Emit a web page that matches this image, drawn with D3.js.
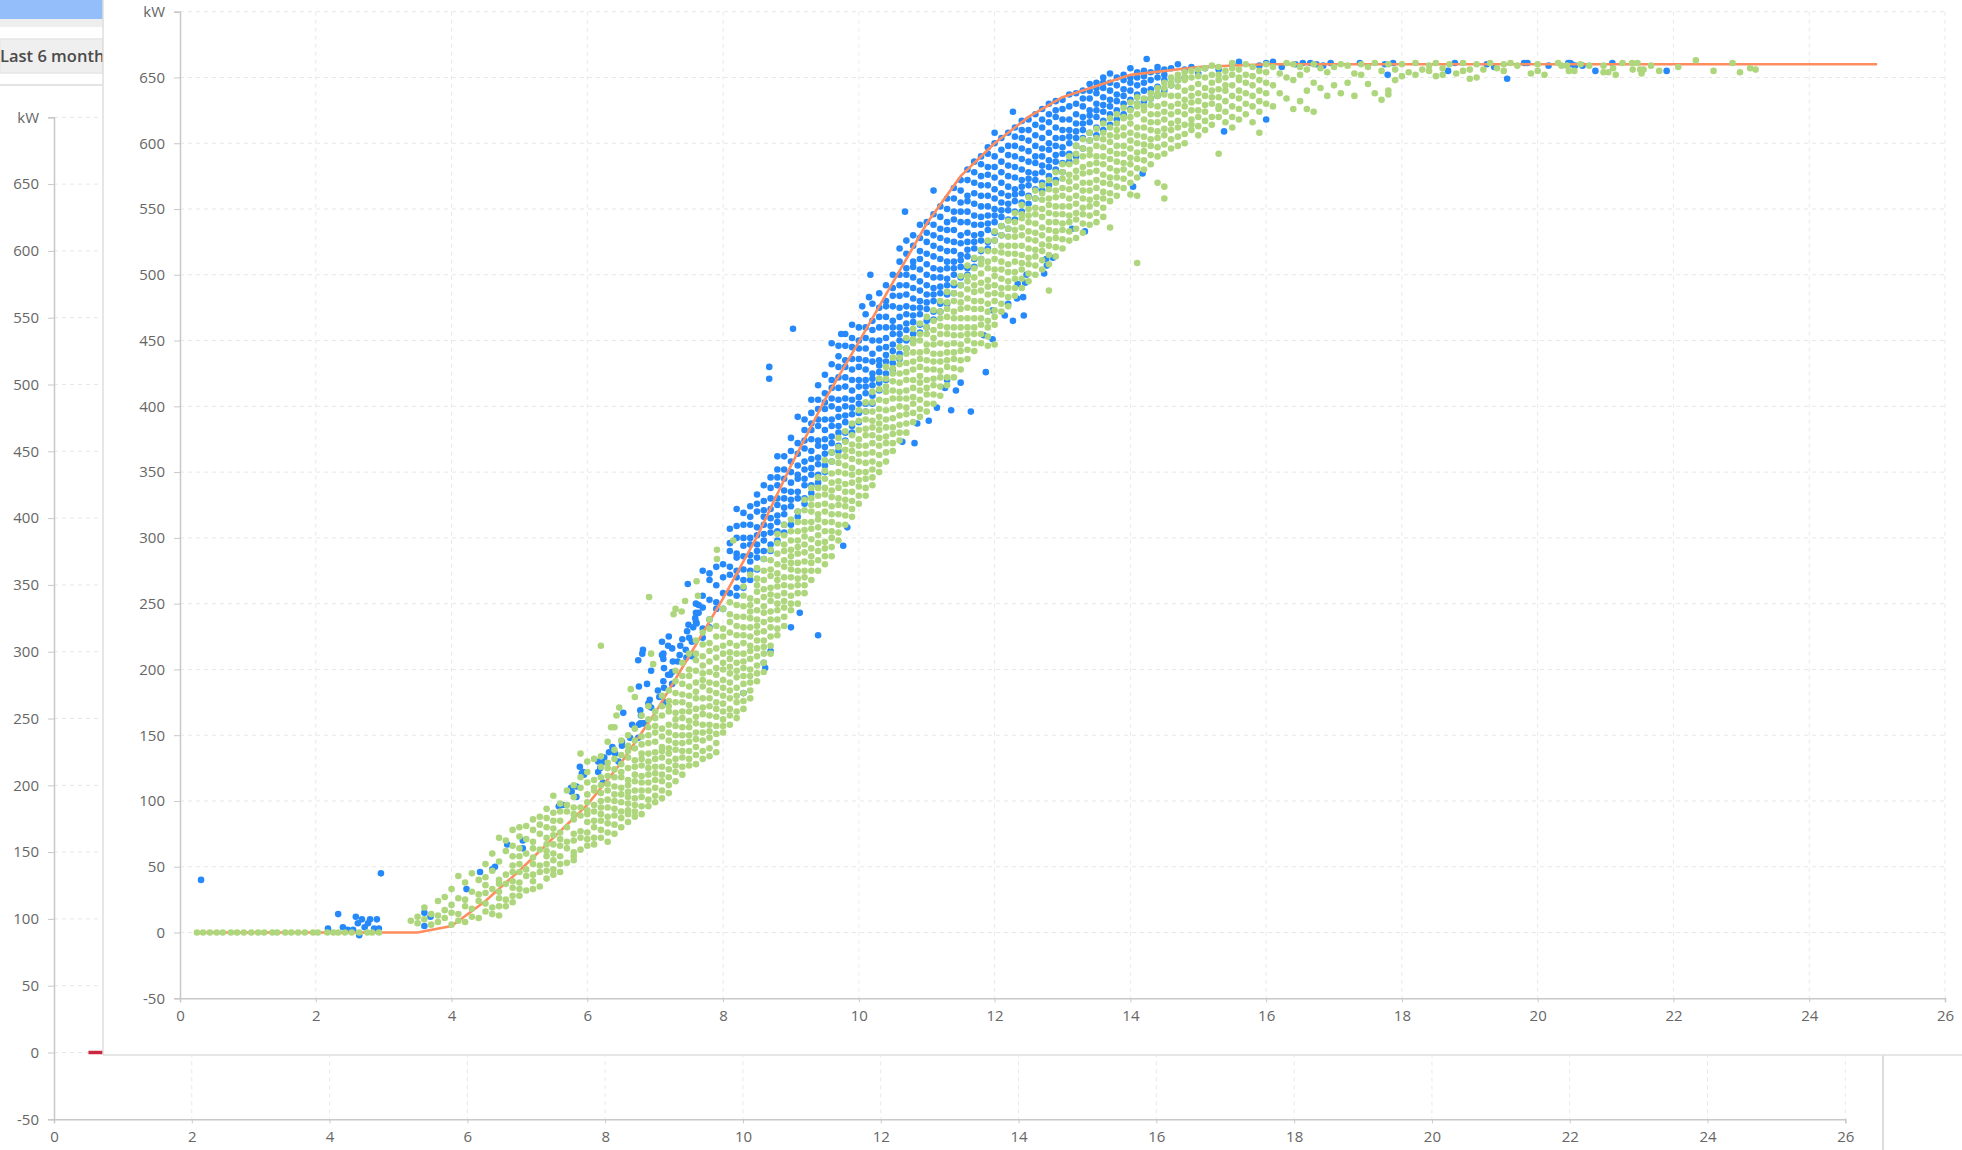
<!DOCTYPE html>
<html>
<head>
<meta charset="utf-8">
<script src="https://cdn.jsdelivr.net/npm/d3@7"></script>
<style>
	html, body { margin: 0; padding: 0; background: #fff; overflow: hidden; }
	text { font-family: "Open Sans", sans-serif; }
</style>
</head>
<body>
<script>
var xTicks = [0,2,4,6,8,10,12,14,16,18,20,22,24,26];
var yTicks = [-50,0,50,100,150,200,250,300,350,400,450,500,550,600,650,700];
var unitLabel = 'kW';
var buttonLabel = 'Last 6 month';

// manufacturer curve
var curveSpeed = [0.3,3.5,4,4.5,5,6,6.5,7,7.5,8,8.5,9,9.5,10,10.5,11,11.5,12,12.5,13,14,15,16,25];
var curvePower = [0,0,5,24,47,97,129,167,210,254,301,355,405,449,494,539,575,600,620,635,652,658,660,660];

// the stub of the chart hidden behind the panel
var backSpeed = [0.5,0.8];
var backPower = [0,0];

// every row: wind speed, then the power readings in that 0.1 m/s column
var greenColumns = [
	[3.4,9],[3.5,7,12],[3.6,10,19],[3.7,6,14],[3.8,8,13,24],[3.9,11,17,27],
	[4.0,6,15,21,33],[4.1,9,14,26,43],[4.2,8,20,25,38],[4.3,12,18,31,45],
	[4.4,11,24,29,40],[4.5,16,22,36,42,52],[4.6,14,19,33,47,60],[4.7,13,26,31,40,54,72],
	[4.8,20,25,37,44,62,70],[4.9,23,34,39,51,66,78],[5.0,28,33,46,52,64,73,80],
	[5.1,32,43,48,60,71,81],[5.2,33,39,52,57,69,86],[5.3,35,46,51,63,75,82,88],
	[5.4,41,47,58,67,72,87,94],[5.5,44,55,60,74,79,91,104],[5.6,46,52,66,71,85,98],
	[5.7,53,64,69,80,92,97,108],[5.8,55,61,75,86,90,103,112],[5.9,63,72,77,89,95,110,118,136],
	[6.0,66,71,84,93,99,114,122,130],[6.1,67,80,85,97,108,116,132],[6.2,72,78,90,95,106,118,126,134],
	[6.3,69,83,88,101,113,119,129,145],[6.4,75,89,94,105,111,124,139,156],[6.5,80,87,99,110,122,128,146],
	[6.6,84,93,98,107,116,133,142,150],[6.7,88,97,102,115,120,131,146,155],[6.8,90,103,108,119,127,136,149,165],
	[6.9,96,101,114,125,130,144,156,172],[7.0,99,110,121,126,137,152,157,168],[7.1,102,115,120,133,141,149,165,180],
	[7.2,106,112,124,136,146,152,168,176,184],[7.3,122,127,139,144,157,167,175,191,199],[7.4,120,133,138,150,163,168,181,189,205],
	[7.5,127,132,145,156,161,173,187,195,212],[7.6,128,141,147,159,164,178,183,199,207,222],[7.7,132,146,152,166,171,187,192,203,219,228],
	[7.8,134,148,153,165,178,184,198,206,214,231,238],[7.9,137,151,157,170,175,189,201,209,225,233],[8.0,152,157,168,180,186,200,205,218,231,246],
	[8.1,158,165,178,184,197,208,213,228,236,251],[8.2,163,175,180,194,199,212,226,233,249],[8.3,170,176,189,201,206,220,232,240,256,263],
	[8.4,178,190,195,208,218,225,239,249,254,272],[8.5,191,197,210,222,228,238,245,259,269,277],[8.6,198,212,217,229,243,248,261,268,284],
	[8.7,212,218,232,244,252,257,271,283,291],[8.8,226,231,245,250,263,273,280,296,303],[8.9,233,247,252,264,278,283,295,310],
	[9.0,245,250,263,276,281,291,305,314],[9.1,250,264,269,281,293,298,312,320],[9.2,258,270,275,289,301,306,321,329],
	[9.3,268,281,286,299,307,320,330,338],[9.4,275,283,296,302,314,325,338,346],[9.5,280,292,297,312,320,333,338,351,359],
	[9.6,286,300,305,318,331,336,349,365],[9.7,298,304,318,330,338,343,357,369,376],[9.8,310,324,329,341,349,362,373,381],
	[9.9,316,322,335,348,353,366,371,387],[10.0,326,339,344,358,370,375,389,397],[10.1,332,345,350,364,378,383,396,403],
	[10.2,340,352,358,372,384,389,403,411],[10.3,350,356,370,382,387,398,413,421],[10.4,358,372,377,390,397,411,421,430],
	[10.5,366,379,384,398,406,419,429,437],[10.6,374,380,393,406,411,425,437,445],[10.7,380,394,399,412,420,433,444,452],
	[10.8,388,402,407,420,428,441,451,459],[10.9,392,398,412,423,436,441,455,463],[11.0,396,409,414,428,442,447,460,468],
	[11.1,402,416,421,434,447,452,465,473],[11.2,408,422,427,440,448,461,472,480],[11.3,416,430,435,447,455,468,479,487],
	[11.4,422,436,441,454,467,472,486,494],[11.5,428,442,447,460,474,479,492,499],[11.6,436,450,455,467,475,489,499,507],
	[11.7,442,455,460,474,487,492,505,513],[11.8,448,462,467,480,488,501,512,519],[11.9,446,460,465,478,491,496,510,518,526],
	[12.0,447,468,473,486,499,504,518,526,533],[12.1,472,485,490,504,517,522,537],[12.2,476,490,495,508,516,529,541],
	[12.3,484,497,502,516,529,534,547],[12.4,490,504,509,522,530,543,553],[12.5,495,508,513,527,540,545,559],
	[12.6,500,514,519,532,546,551,564],[12.7,504,518,523,536,544,557,568],[12.8,488,508,522,527,540,553,558,572],
	[12.9,514,528,533,546,559,564,578],[13.0,520,534,539,552,560,573,584],[13.1,526,540,545,558,571,576,590],
	[13.2,528,542,547,560,574,579,592,598],[13.3,532,546,551,564,577,582,596,603],[13.4,538,552,557,570,578,591,602,608],
	[13.5,540,554,559,572,585,590,604,611],[13.6,544,558,563,576,584,597,608,615],[13.7,536,556,569,574,588,601,606,619],
	[13.8,560,574,579,592,605,610,622],[13.9,566,580,585,598,606,619,627],[14.0,561,570,584,589,602,615,620,631],
	[14.1,509,560,574,588,593,606,622,628,635],[14.2,580,594,599,612,625,634],[14.3,584,598,603,616,629,638],
	[14.4,570,590,604,609,622,636,642],[14.5,558,567,592,606,611,624,637,646],[14.6,596,610,615,628,644,650],
	[14.7,598,612,617,630,643,652],[14.8,600,614,628,633,648,654],[14.9,610,618,631,642,655],
	[15.0,606,620,625,638,651],[15.1,610,624,629,642,657],[15.2,614,630,635,646,659],
	[15.3,592,620,628,641,652,658],[15.4,616,632,640,655],[15.5,612,628,644,652,661],
	[15.6,626,634,650,656],[15.7,622,638,646,660],[15.8,616,636,651,658],
	[15.9,608,624,640,655],[16.0,630,646,660],[16.1,628,644,658],
	[16.2,638,653],[16.3,634,650,661],[16.4,626,648,660],
	[16.5,632,652,658],[16.6,626,640,656],[16.7,624,646,660],
	[16.8,642,657],[16.9,636,654],[17.0,644,658],
	[17.1,638,660],[17.2,646,659],[17.3,636,653],
	[17.4,652,660],[17.5,645,658],[17.6,638,661],
	[17.7,633,655],[17.8,637,640,660],[17.9,648,656],
	[18.0,651,660],[18.1,654],[18.2,652,661],[18.3,656],[18.4,655,659],
	[18.5,651,661],[18.6,652,657],[18.7,660],[18.8,653],[18.9,655,661],
	[19.0,649,656],[19.1,650,660],[19.2,656],[19.3,661],[19.4,657],
	[19.5,655,660],[19.6,661],[19.7,659],[19.9,653],[20.0,655,660],[20.1,652],[20.3,661]
];

// more readings from the crowded middle of the green band
var greenColumns2 = [
	[4.5,30],[4.7,20,37],[4.9,28,46,58],[5.0,38,58],[5.2,44,64,78],[5.4,52,62,80],[5.5,48,67,85],[5.6,58,76,92],[5.8,58,70,95],
	[6.0,76,90,105],[6.1,72,92,110],[6.2,85,100,112],[6.3,76,95,108,125],[6.4,82,100,118,132],[6.5,92,105,118,135],[6.6,90,103,112,125,138],[6.7,92,108,126,140],[6.8,96,114,132,143],[6.9,108,120,136,150,162],
	[7.0,104,116,132,145,163],[7.1,108,126,138,155,172],[7.2,118,130,140,158,172],[7.3,115,132,150,162,182],[7.4,126,144,156,175,195],[7.5,138,150,168,180,200],[7.6,135,152,170,190,212],[7.7,138,158,178,197,210],[7.8,140,158,172,190,220],[7.9,144,164,182,196,216],
	[8.0,162,174,192,212,225],[8.1,170,190,202,220,242],[8.2,168,186,205,218,240],[8.3,182,195,212,226,248],[8.4,184,200,214,232,244],[8.5,203,216,233,252,264],[8.6,205,222,236,255,275],[8.7,225,238,262,276],[8.8,238,256,268,288],[8.9,240,258,270,290,302],
	[9.0,256,270,286,298],[9.1,258,275,288,305],[9.2,264,282,295,312],[9.3,275,292,312,325],[9.4,290,308,318,332],[9.5,286,305,326,345],[9.6,293,312,324,342,358],[9.7,310,325,350,362],[9.8,317,335,355,367],[9.9,328,342,360,378],
	[10.0,332,350,364,382],[10.1,338,357,370,390],[10.2,346,365,378,396],[10.3,363,376,392,405],[10.4,365,384,404,415],[10.5,372,391,412,425],[10.6,386,400,418,432],[10.7,387,406,426,440],[10.8,395,414,434,448],[10.9,405,418,430,450],
	[11.0,402,420,435,455],[11.1,409,428,440,458],[11.2,415,434,455,467],[11.3,422,441,460,474],[11.4,429,448,460,480],[11.5,435,454,467,485],[11.6,443,460,482,495],[11.7,448,467,480,498],[11.8,455,474,494,508],[11.9,453,472,485,505],
	[12.0,462,480,492,512],[12.1,478,497,510,530],[12.2,483,502,522,535],[12.3,490,510,522,540],[12.4,497,515,536,546],[12.5,501,520,533,550],[12.6,507,526,539,558],[12.7,511,530,550,562],[12.8,515,534,547,565],[12.9,521,540,552,570],
	[13.0,527,546,566,578],[13.1,533,552,565,584],[13.2,535,554,567,586],[13.3,539,558,570,590],[13.4,545,564,584,595],[13.5,547,566,579,598],[13.6,551,570,590,603],[13.7,562,581,594,612],[13.8,567,586,598,615],[13.9,573,592,612,620],
	[14.0,577,596,608,625],[14.1,581,600,612,630],[14.2,587,605,618,628],[14.3,591,610,622,634],[14.4,597,616,628,638],[14.5,599,618,630,642],[14.6,603,622,636,646],[14.7,605,624,636,648],[14.8,607,622,640,650],[14.9,614,625,636,650],
	[15.0,613,632,645,656],[15.1,617,636,650],[15.2,620,640,652],[15.3,626,635,648],[15.4,624,644,650],[15.5,620,636,657],[15.6,618,640,648],[15.7,630,652],[15.8,628,644],[15.9,632,648],[16.0,638,654]
];

var greenStraySpeed = [0.25,0.34,0.44,0.54,0.63,0.75,0.84,0.94,1.05,1.15,1.24,1.36,1.43,1.55,1.64,1.74,1.84,1.96,2.03,2.17,2.26,2.33,2.43,2.53,2.64,2.76,2.83,2.93,
	6.2,6.91,7.91,7.91,7.61,8.15,7.3,7.27,7.39,7.44,7.63,6.94,6.97,6.64,6.7,6.47,6.43,6.35,
	20.35,20.43,20.46,20.54,20.63,20.76,20.97,20.97,21.04,21.11,21.15,21.25,21.39,21.4,21.47,21.51,21.56,21.53,21.67,21.79,22.07,22.33,22.59,22.87,22.98,23.13,23.21];
var greenStrayPower = [0,0,0,0,0,0,0,0,0,0,0,0,0,0,0,0,0,0,0,0,0,0,0,0,0,0,0,0,
	218,255,291,284,267,298,246,242,244,252,256,212,204,185,179,171,165,156,
	659,659,655,655,660,659,659,654,654,657,652,661,661,656,661,656,656,653,659,655,658,663,655,661,654,657,656];

var blueColumns = [
	[7.6,236,243,250],[7.7,224,231,247,256,275],[7.8,232,238,253,268,273],[7.9,246,251,264,278],
	[8.0,246,258,270,280],[8.1,258,272,278,290,296,307],[8.2,256,270,275,288,309,322],[8.3,262,276,286,294,310,319],
	[8.4,268,282,287,300,316,324],[8.5,276,290,295,308,326,333],[8.6,284,298,303,316,321,340],[8.7,290,304,309,322,338,346],
	[8.8,298,312,317,330,346,352,362],[8.9,304,318,323,336,352,362],[9.0,310,324,329,342,358,366,376],[9.1,316,330,335,348,364,372,392],
	[9.2,326,340,345,358,374,382,390],[9.3,334,348,353,366,382,387,405],[9.4,342,356,361,374,390,398,416],[9.5,350,364,369,382,398,403,424],
	[9.6,358,372,377,390,406,414,432,448],[9.7,366,380,385,398,414,422,438,446],[9.8,374,388,393,406,422,430,446,455],[9.9,380,394,399,412,428,436,452,462],
	[10.0,388,402,407,420,436,444,460],[10.1,396,410,415,428,444,452,470],[10.2,402,416,421,434,450,458,478],[10.3,412,426,431,444,460,468,486],
	[10.4,420,434,439,452,468,476,492],[10.5,428,442,447,460,476,484,500],[10.6,436,450,455,468,484,492,510,520],[10.7,444,458,463,476,492,500,516,526],
	[10.8,450,464,469,482,498,506,522,530],[10.9,456,470,475,488,504,512,528,538],[11.0,460,474,479,492,508,516,532,540],[11.1,466,480,485,498,514,522,538,546],
	[11.2,472,486,491,504,520,528,544,552],[11.3,478,492,497,510,526,534,550,558],[11.4,486,500,505,518,534,542,558,566],[11.5,492,506,511,524,540,548,564,572],
	[11.6,500,514,519,532,548,556,572,580],[11.7,506,520,525,538,554,562,578,586],[11.8,512,526,531,544,560,568,584,590],[11.9,520,534,539,552,568,576,592,597],
	[12.0,526,540,545,558,574,582,600,608],[12.1,530,544,549,562,578,586,604],[12.2,535,549,554,567,583,591,608],[12.3,542,556,561,574,590,598,612],
	[12.4,548,562,567,580,596,604,617],[12.5,554,568,573,586,602,618],[12.6,558,572,577,590,606,622],[12.7,564,578,583,596,612,626],
	[12.8,568,582,587,600,616,630],[12.9,572,586,591,604,620,632],[13.0,578,592,597,610,626,633],[13.1,586,600,605,618,637],
	[13.2,590,604,609,622,638],[13.3,596,610,615,628,640],[13.4,602,616,621,634,645],[13.5,606,620,625,638,646],
	[13.6,610,624,629,642,650],[13.7,614,628,633,646,653],[13.8,618,632,637,650],[13.9,622,636,641,652],
	[14.0,626,640,650,657],[14.1,630,644,654],[14.2,632,646,655],[14.3,634,648],
	[14.4,636,650,658],[14.5,640,656],[14.6,644,657],[14.7,648,660],
	[14.8,650,656],[14.9,658],[15.0,653],[15.1,657],[15.3,656],
	[15.5,660],[15.6,662],[15.9,659],[16.0,661],[16.1,662]
];

// more readings from the crowded middle of the blue band
var blueColumns2 = [
	[8.2,262,285,300],[8.3,268,300],[8.4,275,295,310],[8.5,285,302,320],[8.6,290,310,328],[8.7,295,315,330],[8.8,305,325,340],[8.9,310,330,345],
	[9.0,335,350],[9.1,320,345,355],[9.2,330,352,368],[9.3,340,360,375,395],[9.4,348,370,385,405],[9.5,355,375,390,410],[9.6,365,385,400,420],[9.7,370,392,405,430],[9.8,380,400,415,435],[9.9,385,405,420,445],
	[10.0,395,415,430,450],[10.1,402,420,435,460],[10.2,408,425,440,465],[10.3,418,435,450,475],[10.4,425,445,460,480],[10.5,433,455,465,490],[10.6,440,460,475,500],[10.7,450,470,485,505],[10.8,455,475,490,510],[10.9,462,480,495,518],
	[11.0,465,485,500,525],[11.1,472,490,505,530],[11.2,478,498,512,535],[11.3,485,505,518,540],[11.4,492,510,525,548],[11.5,498,515,530,555],[11.6,505,525,540,560],[11.7,512,530,545,570],[11.8,518,538,552,575],[11.9,525,545,560,582],
	[12.0,532,550,565,590],[12.1,537,555,570,595],[12.2,542,560,575,598],[12.3,548,565,582,605],[12.4,555,572,588,610],[12.5,560,578,594,610],[12.6,565,585,598,614],[12.7,570,590,604,618],[12.8,575,595,608,622],[12.9,580,598,612,625],
	[13.0,585,604,618],[13.1,592,610,628],[13.2,598,615,630],[13.3,604,620,634],[13.4,608,625,640],[13.5,612,630,642],[13.6,617,635,646],[13.7,622,640],[13.8,625,644],[13.9,630,648],
	[14.0,633,646],[14.1,637,650],[14.2,640,651],[14.3,641,654],[14.4,643,655],[14.5,648,652]
];

var blueStraySpeed = [0.31,2.96,2.33,2.59,2.68,2.62,2.8,2.9,2.77,2.72,2.18,2.4,2.47,2.55,2.64,2.86,2.93,3.6,3.69,3.6,
	4.22,4.42,4.6,4.64,4.82,5.05,5.05,5.58,5.64,5.76,5.77,5.84,5.84,5.89,5.94,5.95,5.92,
	6.16,6.25,6.22,6.19,6.16,6.23,6.32,6.37,6.41,6.46,6.51,6.51,6.63,6.75,6.66,6.76,6.84,
	6.53,6.78,6.79,6.78,6.82,6.92,6.9,6.94,7.04,7.06,7.13,7.15,6.76,6.88,7.12,7.25,6.94,7.19,7.25,7.22,
	7.13,7.12,7.1,7.12,6.75,6.81,6.82,7.1,7.2,7.19,7.25,7.37,7.36,7.45,7.46,7.54,7.26,7.33,
	7.4,7.5,7.54,7.47,7.56,7.49,7.61,7.59,7.64,7.64,7.48,
	8.3,8.6,8.62,8.7,9.4,9.0,9.13,9.77,9.83,9.03,8.68,8.68,
	11.87,11.65,11.36,11.15,11.27,11.43,11.3,11.5,11.03,10.86,10.82,10.64,11.84,11.97,11.97,
	12.15,12.27,12.43,12.2,12.33,12.42,12.34,12.45,12.47,12.73,12.77,12.76,12.86,13.14,13.33,
	11.1,10.68,10.17,10.15,10.05,9.74,12.27,14.24,14.18,14.04,16.0,15.38,
	16.23,16.43,16.54,16.65,16.74,16.84,16.95,17.38,17.75,17.87,18.68,18.78,19.25,19.36,19.55,19.8,19.85,20.16,20.48,20.55,17.79,
	20.45,20.5,20.66,20.85,21.1,21.9];
var blueStrayPower = [40,45,14,12,10,7,10,10,7,4,3,4,2,2,-2,3,3,15,12,5,
	33,46,48,50,67,70,64,96,97,110,107,111,103,126,122,120,121,
	130,133,129,125,122,114,137,141,136,130,145,142,148,148,158,158,159,
	167,169,165,159,159,177,174,171,184,179,186,175,187,189,191,189,199,196,198,196,
	201,208,211,212,207,212,215,221,225,218,216,218,211,215,209,210,206,206,
	223,224,221,229,232,234,235,239,243,249,265,
	182,205,201,214,226,232,243,294,308,459,430,421,
	426,396,397,399,414,412,420,418,389,387,372,373,454,451,473,
	469,465,469,478,482,483,493,494,500,501,507,512,513,535,533,
	564,548,500,483,476,455,624,664,577,567,618,609,
	658,660,661,661,660,659,661,661,660,661,655,661,660,658,649,661,661,659,661,659,652,
	661,660,659,655,661,655];

function flatten(columns) {
	var pts = [];
	columns.forEach(c => c.slice(1).forEach(p => pts.push([c[0], p])));
	return pts;
}

var bluePoints = flatten(blueColumns).concat(flatten(blueColumns2), blueStraySpeed.map((v,i) => [v, blueStrayPower[i]]));
var greenPoints = flatten(greenColumns).concat(flatten(greenColumns2), greenStraySpeed.map((v,i) => [v, greenStrayPower[i]]));

var svg = d3.select('body').append('svg').attr('width', 1962).attr('height', 1150).style('display', 'block');

// draws one set of axes with its dashed grid
function drawAxes(g, x, y) {
	g.selectAll('line.gridx')
		.data(xTicks.slice(1))
		.enter().append('line')
			.attr('class', 'gridx')
			.attr('x1', d => x(d))
			.attr('x2', d => x(d))
			.attr('y1', y(700))
			.attr('y2', y(-50))
			.attr('stroke', '#e8e8e8')
			.attr('stroke-dasharray', '4,4');
	g.selectAll('line.gridy')
		.data(yTicks.slice(1))
		.enter().append('line')
			.attr('class', 'gridy')
			.attr('x1', x(0))
			.attr('x2', x(26))
			.attr('y1', d => y(d))
			.attr('y2', d => y(d))
			.attr('stroke', '#e8e8e8')
			.attr('stroke-dasharray', '4,4');

	var left = g.append('g')
		.attr('transform', 'translate(' + x(0) + ',0)')
		.call(d3.axisLeft(y).tickValues(yTicks).tickSize(6).tickPadding(9).tickFormat(d => d == 700 ? unitLabel : d));
	var bottom = g.append('g')
		.attr('transform', 'translate(0,' + y(-50) + ')')
		.call(d3.axisBottom(x).tickValues(xTicks).tickSize(4).tickPadding(8).tickFormat(d => d));

	[left, bottom].forEach(a => {
		a.selectAll('path, line').attr('stroke', '#c8c8c8');
		a.select('path').attr('stroke-width', 1.5);
		a.selectAll('text').attr('fill', '#666').style('font-size', '15px').style('font-family', '"Open Sans", sans-serif');
	});
}

// chart behind the panel

var xBack = d3.scaleLinear().domain([0,26]).range([54,1845.3]);
var yBack = d3.scaleLinear().domain([-50,700]).range([1119.3,117.3]);
var back = svg.append('g');
drawAxes(back, xBack, yBack);

back.append('path')
	.datum(backSpeed.map((v,i) => [v, backPower[i]]))
	.attr('fill', 'none')
	.attr('stroke', '#c9283e')
	.attr('stroke-width', 3.5)
	.attr('d', d3.line().x(d => xBack(d[0])).y(d => yBack(d[1])));

svg.append('line')
	.attr('x1', 1883).attr('x2', 1883)
	.attr('y1', 1055).attr('y2', 1150)
	.attr('stroke', '#dcdcdc')
	.attr('stroke-width', 2);

// left strip

svg.append('rect').attr('x', 0).attr('y', 0).attr('width', 103).attr('height', 19).attr('fill', '#94befa');
svg.append('rect').attr('x', 0).attr('y', 19).attr('width', 103).attr('height', 8).attr('fill', '#eeeeee');
svg.append('rect').attr('x', 0).attr('y', 39).attr('width', 103).attr('height', 34).attr('fill', '#efefef').attr('stroke', '#e6e6e6').attr('stroke-width', 1.5);
svg.append('rect').attr('x', 0).attr('y', 84).attr('width', 103).attr('height', 2).attr('fill', '#e4e4e4');
svg.append('text')
	.attr('x', 0)
	.attr('y', 62)
	.attr('fill', '#4a4a4a')
	.attr('font-weight', 600)
	.style('font-size', '16.5px')
	.text(buttonLabel);

// main panel

svg.append('rect').attr('x', 103).attr('y', 0).attr('width', 1859).attr('height', 1055).attr('fill', '#fff');
svg.append('line').attr('x1', 103).attr('x2', 103).attr('y1', 0).attr('y2', 1055).attr('stroke', '#dedede').attr('stroke-width', 1.5);
svg.append('line').attr('x1', 103).attr('x2', 1962).attr('y1', 1055).attr('y2', 1055).attr('stroke', '#dedede').attr('stroke-width', 1.5);

var x = d3.scaleLinear().domain([0,26]).range([180,1945]);
var y = d3.scaleLinear().domain([-50,700]).range([998.3,11.7]);
var main = svg.append('g');
drawAxes(main, x, y);

main.selectAll('circle.blue')
	.data(bluePoints)
	.enter().append('circle')
		.attr('class', 'blue')
		.attr('cx', d => x(d[0]))
		.attr('cy', d => y(d[1]))
		.attr('r', 3.3)
		.attr('fill', '#2589fb');

main.append('path')
	.datum(curveSpeed.map((v,i) => [v, curvePower[i]]))
	.attr('fill', 'none')
	.attr('stroke', '#ff8c5e')
	.attr('stroke-width', 2.6)
	.attr('d', d3.line().x(d => x(d[0])).y(d => y(d[1])));

main.selectAll('circle.green')
	.data(greenPoints)
	.enter().append('circle')
		.attr('class', 'green')
		.attr('cx', d => x(d[0]))
		.attr('cy', d => y(d[1]))
		.attr('r', 3.3)
		.attr('fill', '#aed67c');
</script>
</body>
</html>
